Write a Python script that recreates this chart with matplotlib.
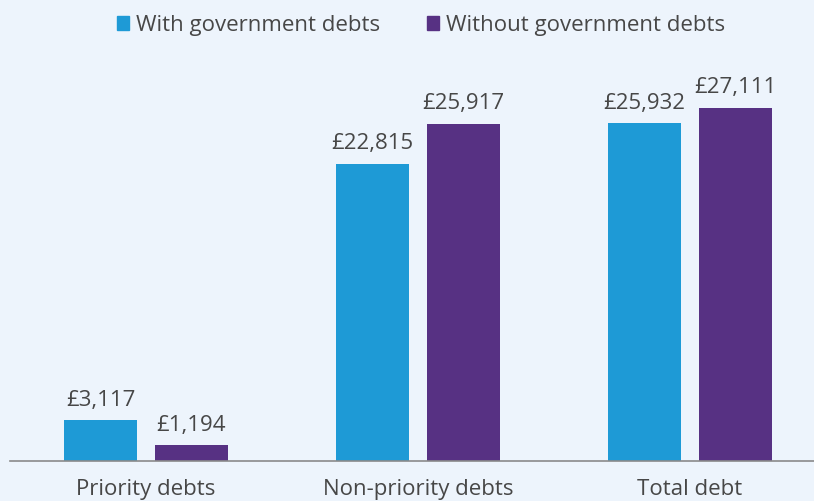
import matplotlib.pyplot as plt
import numpy as np
from matplotlib.patches import Patch

categories = ['Priority debts', 'Non-priority debts', 'Total debt']
with_gov = [3117, 22815, 25932]
without_gov = [1194, 25917, 27111]
series_names = ['With government debts', 'Without government debts']

bg = '#EDF4FC'
blue = '#1E9AD6'
purple = '#573183'
text_col = '#474747'

plt.rcParams['font.family'] = ['Open Sans', 'DejaVu Sans']

fig = plt.figure(figsize=(8.14, 5.01), dpi=100, facecolor=bg)
# axes runs slightly past the right edge, like the baseline in the layout
ax = fig.add_axes([10 / 814, 40 / 501, 816 / 814, 401 / 501], facecolor=bg)

x = np.arange(len(categories))
w = 0.268
off = 0.167
b1 = ax.bar(x - off, with_gov, w, color=blue)
b2 = ax.bar(x + off, without_gov, w, color=purple)

for bars, vals in [(b1, with_gov), (b2, without_gov)]:
    for rect, v in zip(bars, vals):
        ax.annotate('£{:,}'.format(v), (rect.get_x() + rect.get_width() / 2, v),
                    xytext=(0, 7), textcoords='offset points', ha='center', va='bottom',
                    fontsize=16, color=text_col)

ax.set_xlim(-0.5, 2.5)
ax.set_ylim(0, 30800)
ax.set_yticks([])
ax.set_xticks(x)
ax.set_xticklabels(categories, fontsize=16, color=text_col)
ax.tick_params(axis='x', length=0, pad=13)
for s in ['top', 'right', 'left']:
    ax.spines[s].set_visible(False)
ax.spines['bottom'].set_color('#8a8a8a')
ax.spines['bottom'].set_linewidth(1.2)

handles = [Patch(color=blue), Patch(color=purple)]
fig.legend(handles, series_names, loc='upper center', bbox_to_anchor=(0.517, 1.01),
           ncol=2, frameon=False, fontsize=16, handlelength=0.55, handleheight=0.55,
           handletextpad=0.3, columnspacing=2.1, labelcolor=text_col)

fig.savefig('out.png', dpi=100, facecolor=bg)
